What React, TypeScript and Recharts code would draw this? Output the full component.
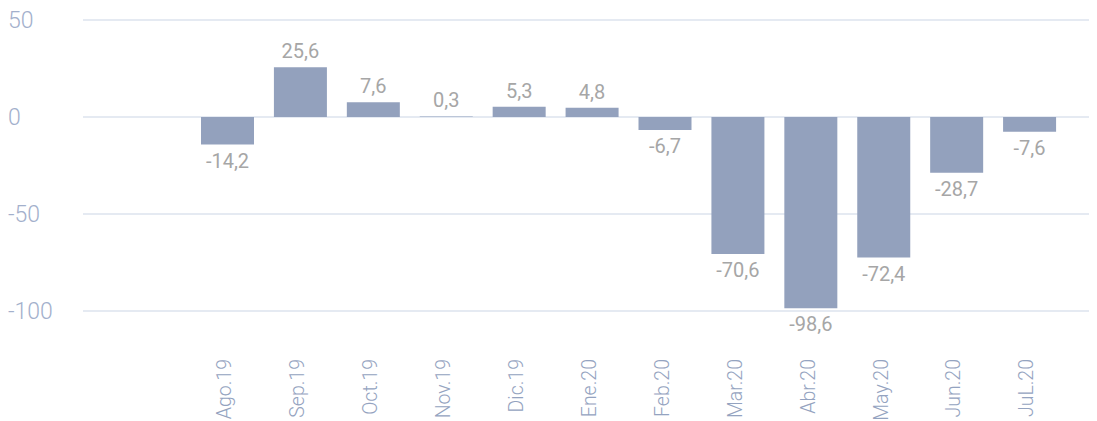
import React from 'react'
import { BarChart, Bar, XAxis, YAxis, CartesianGrid, LabelList } from 'recharts'

const months = ['Ago.19', 'Sep.19', 'Oct.19', 'Nov.19', 'Dic.19', 'Ene.20', 'Feb.20', 'Mar.20', 'Abr.20', 'May.20', 'Jun.20', 'JuL.20']
const values = [-14.2, 25.6, 7.6, 0.3, 5.3, 4.8, -6.7, -70.6, -98.6, -72.4, -28.7, -7.6]
const yTicks = [50, 0, -50, -100]

const data = months.map((m, i) => ({ month: m, value: values[i] }))

const FONT = 'Roboto, "Open Sans", sans-serif'

function YTick({ y, payload }: any) {
  return (
    <text x={0} y={y} dy="0.35em" textAnchor="start" fill="#a3b0cc" fontSize={23} fontWeight={300} fontFamily={FONT}>
      {payload.value}
    </text>
  )
}

function XTick({ x, y, payload }: any) {
  return (
    <g transform={`translate(${x - 3},${y + 40})`}>
      <text transform="rotate(-90)" textAnchor="end" dy="0.35em" fill="#94a3c0" fontSize={19.5} fontWeight={300} fontFamily={FONT}>
        {payload.value}
      </text>
    </g>
  )
}

export default function App() {
  return (
    <BarChart width={1089} height={413} data={data} margin={{ top: 12, right: 0, bottom: 0, left: 0 }}>
      <CartesianGrid vertical={false} stroke="#dde3ee" strokeWidth={1.5} />
      <XAxis
        dataKey="month"
        interval={0}
        axisLine={false}
        tickLine={false}
        height={110}
        padding={{ left: 108, right: 31 }}
        tick={<XTick />}
      />
      <YAxis
        domain={[-100, 50]}
        ticks={yTicks}
        width={75}
        axisLine={false}
        tickLine={false}
        tick={<YTick />}
      />
      <Bar dataKey="value" fill="#93a1bd" barSize={53} isAnimationActive={false}>
        <LabelList
          dataKey="value"
          position="top"
          offset={9}
          formatter={(v: any) => Number(v).toFixed(1).replace('.', ',')}
          style={{ fill: '#a6a6a6', fontSize: 20, fontFamily: FONT }}
        />
      </Bar>
    </BarChart>
  )
}
